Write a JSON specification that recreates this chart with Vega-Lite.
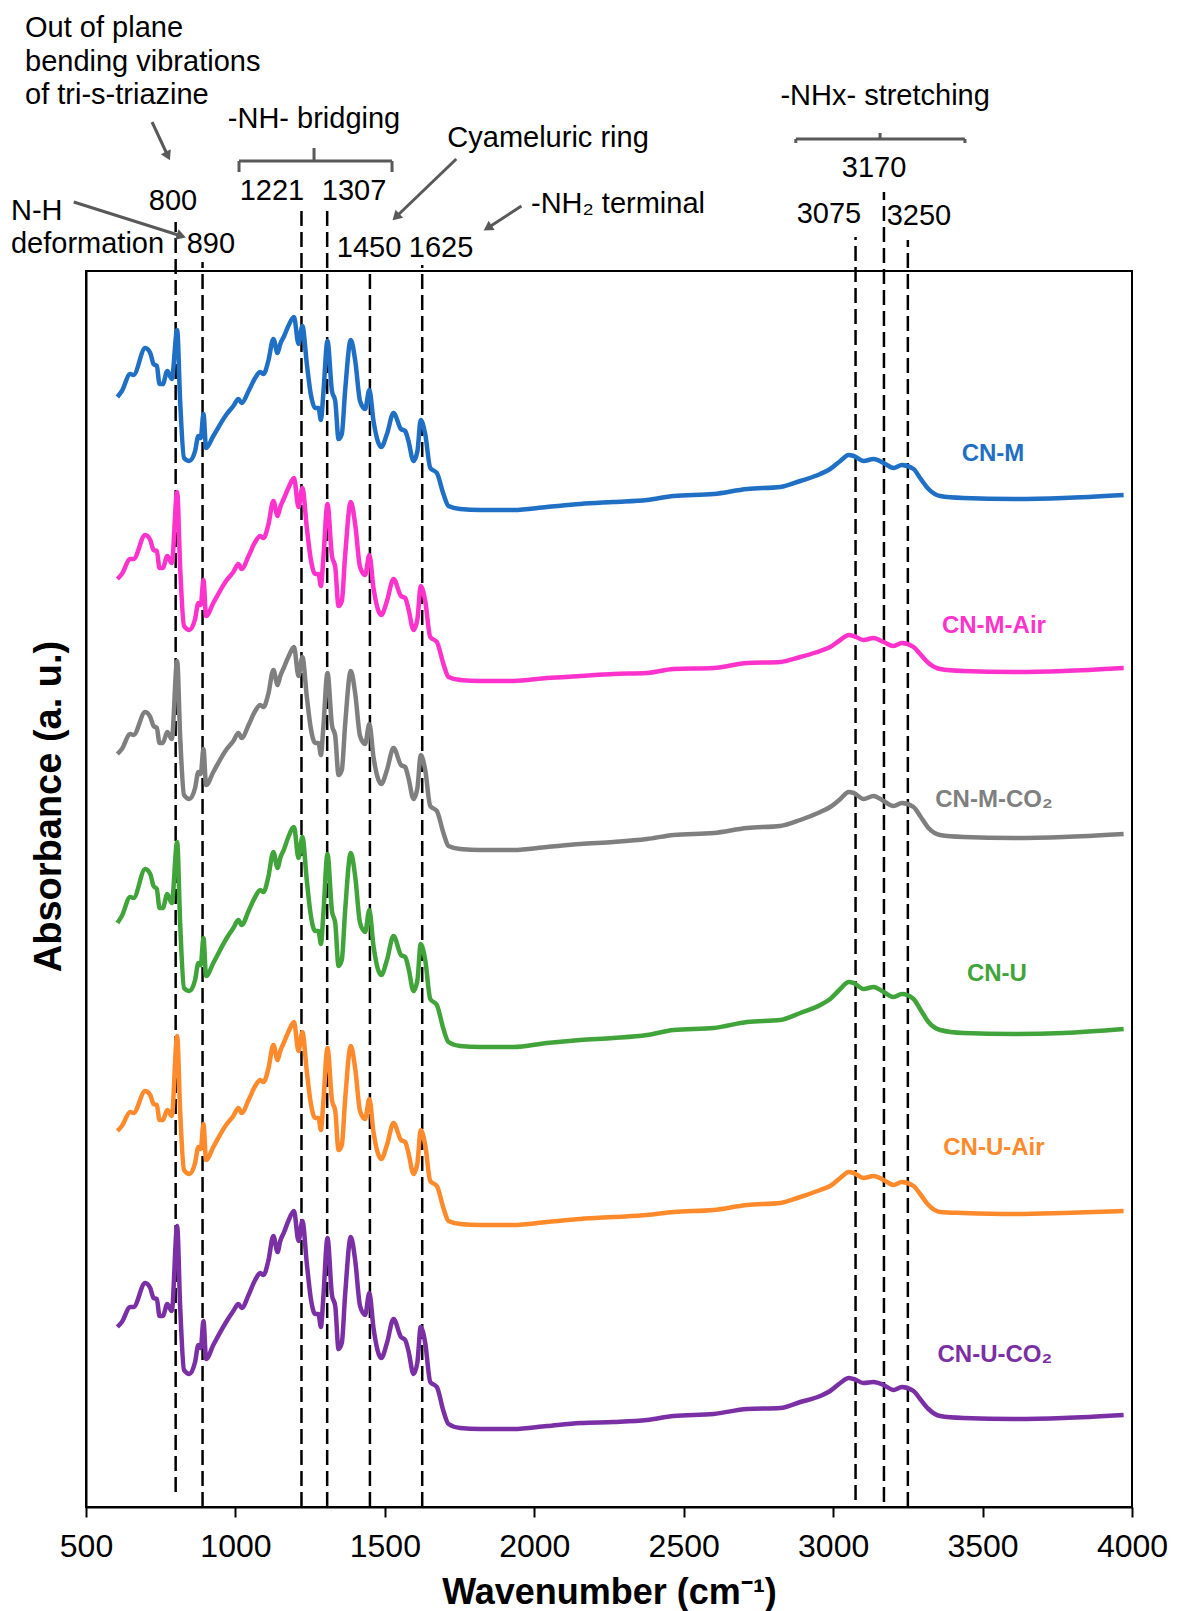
{
  "$schema": "https://vega.github.io/schema/vega-lite/v6.json",
  "width": 1046,
  "height": 1236,
  "autosize": {"type": "none"},
  "padding": {"left": 86, "top": 271, "right": 46, "bottom": 104},
  "background": "white",
  "config": {
    "font": "Liberation Sans",
    "view": {"stroke": "black", "strokeWidth": 2},
    "axis": {"grid": false}
  },
  "encoding": {
    "x": {
      "field": "w", "type": "quantitative",
      "scale": {"domain": [500, 4000], "nice": false, "zero": false},
      "axis": {
        "values": [500, 1000, 1500, 2000, 2500, 3000, 3500, 4000], "format": "d",
        "title": "Wavenumber (cm⁻¹)", "titleFontSize": 36, "titleFontWeight": "bold", "titleColor": "black",
        "titleBaseline": "alphabetic", "titleY": 96,
        "labelFontSize": 32, "labelColor": "black", "labelPadding": 14, "labelFlush": false, "labelOverlap": false,
        "tickSize": 10, "tickWidth": 2, "tickColor": "black",
        "domainColor": "black", "domainWidth": 2, "grid": false
      }
    },
    "y": {
      "field": "v", "type": "quantitative",
      "scale": {"domain": [0, 1236], "nice": false, "zero": false},
      "axis": {
        "title": "Absorbance (a. u.)", "labels": false, "ticks": false, "grid": false,
        "domainColor": "black", "domainWidth": 2,
        "titleFontSize": 38, "titleFontWeight": "bold", "titleColor": "black",
        "titleAngle": -90, "titleAlign": "center", "titleBaseline": "alphabetic", "titleX": -26, "titleY": 535
      }
    }
  },
  "layer": [
    {
      "description": "Dashed guide lines at the assigned band positions",
      "data": {"values": [
        {"w": 800, "v": 15, "v2": 1285},
        {"w": 890, "v": 0, "v2": 1245},
        {"w": 1221, "v": 0, "v2": 1302},
        {"w": 1307, "v": 0, "v2": 1302},
        {"w": 1450, "v": 0, "v2": 1238},
        {"w": 1625, "v": 0, "v2": 1242},
        {"w": 3075, "v": 7, "v2": 1270},
        {"w": 3170, "v": 5, "v2": 1315},
        {"w": 3250, "v": 0, "v2": 1267}
      ]},
      "mark": {"type": "rule", "color": "black", "strokeWidth": 2.5, "strokeDash": [15, 6]},
      "encoding": {"y2": {"field": "v2"}}
    },
    {
      "description": "FTIR spectra, stacked with vertical offsets",
      "data": {"values": [
        {"w": 605, "M": 1110, "MAir": 928, "MCO2": 753, "U": 584, "UAir": 376, "UCO2": 180},
        {"w": 620, "M": 1116, "MAir": 933, "MCO2": 758, "U": 591, "UAir": 381, "UCO2": 185},
        {"w": 648, "M": 1133, "MAir": 948, "MCO2": 773, "U": 610, "UAir": 395, "UCO2": 200},
        {"w": 659, "M": 1132, "MAir": 948, "MCO2": 772, "U": 609, "UAir": 394, "UCO2": 200},
        {"w": 698, "M": 1159, "MAir": 972, "MCO2": 795, "U": 638, "UAir": 416, "UCO2": 224},
        {"w": 715, "M": 1154, "MAir": 967, "MCO2": 790, "U": 633, "UAir": 412, "UCO2": 219},
        {"w": 726, "M": 1143, "MAir": 957, "MCO2": 781, "U": 621, "UAir": 403, "UCO2": 209},
        {"w": 737, "M": 1141, "MAir": 956, "MCO2": 779, "U": 618, "UAir": 402, "UCO2": 208},
        {"w": 746, "M": 1123, "MAir": 939, "MCO2": 764, "U": 599, "UAir": 387, "UCO2": 191},
        {"w": 757, "M": 1123, "MAir": 939, "MCO2": 764, "U": 599, "UAir": 387, "UCO2": 191},
        {"w": 772, "M": 1136, "MAir": 951, "MCO2": 775, "U": 613, "UAir": 397, "UCO2": 203},
        {"w": 787, "M": 1128, "MAir": 944, "MCO2": 768, "U": 604, "UAir": 391, "UCO2": 196},
        {"w": 805, "M": 1177, "MAir": 1015, "MCO2": 846, "U": 665, "UAir": 471, "UCO2": 281},
        {"w": 815, "M": 1106, "MAir": 940, "MCO2": 771, "U": 584, "UAir": 396, "UCO2": 201},
        {"w": 828, "M": 1049, "MAir": 881, "MCO2": 712, "U": 519, "UAir": 337, "UCO2": 137},
        {"w": 846, "M": 1046, "MAir": 877, "MCO2": 708, "U": 516, "UAir": 333, "UCO2": 133},
        {"w": 865, "M": 1056, "MAir": 888, "MCO2": 719, "U": 527, "UAir": 344, "UCO2": 145},
        {"w": 876, "M": 1071, "MAir": 904, "MCO2": 735, "U": 544, "UAir": 360, "UCO2": 162},
        {"w": 884, "M": 1069, "MAir": 902, "MCO2": 733, "U": 542, "UAir": 358, "UCO2": 159},
        {"w": 893, "M": 1093, "MAir": 927, "MCO2": 758, "U": 569, "UAir": 383, "UCO2": 186},
        {"w": 902, "M": 1059, "MAir": 891, "MCO2": 722, "U": 531, "UAir": 347, "UCO2": 148},
        {"w": 926, "M": 1071, "MAir": 904, "MCO2": 735, "U": 544, "UAir": 360, "UCO2": 162},
        {"w": 971, "M": 1093, "MAir": 927, "MCO2": 758, "U": 569, "UAir": 383, "UCO2": 186},
        {"w": 993, "M": 1101, "MAir": 935, "MCO2": 766, "U": 579, "UAir": 391, "UCO2": 196},
        {"w": 1010, "M": 1108, "MAir": 943, "MCO2": 774, "U": 587, "UAir": 399, "UCO2": 203},
        {"w": 1021, "M": 1104, "MAir": 938, "MCO2": 769, "U": 582, "UAir": 394, "UCO2": 199},
        {"w": 1044, "M": 1116, "MAir": 951, "MCO2": 782, "U": 596, "UAir": 407, "UCO2": 212},
        {"w": 1066, "M": 1129, "MAir": 965, "MCO2": 796, "U": 610, "UAir": 421, "UCO2": 227},
        {"w": 1083, "M": 1135, "MAir": 971, "MCO2": 802, "U": 617, "UAir": 427, "UCO2": 234},
        {"w": 1094, "M": 1133, "MAir": 969, "MCO2": 800, "U": 615, "UAir": 425, "UCO2": 232},
        {"w": 1110, "M": 1146, "MAir": 982, "MCO2": 813, "U": 630, "UAir": 438, "UCO2": 246},
        {"w": 1127, "M": 1168, "MAir": 1006, "MCO2": 837, "U": 655, "UAir": 462, "UCO2": 271},
        {"w": 1141, "M": 1154, "MAir": 991, "MCO2": 822, "U": 639, "UAir": 447, "UCO2": 255},
        {"w": 1150, "M": 1163, "MAir": 1000, "MCO2": 831, "U": 649, "UAir": 456, "UCO2": 266},
        {"w": 1163, "M": 1171, "MAir": 1009, "MCO2": 840, "U": 658, "UAir": 465, "UCO2": 275},
        {"w": 1177, "M": 1181, "MAir": 1019, "MCO2": 850, "U": 670, "UAir": 475, "UCO2": 286},
        {"w": 1196, "M": 1190, "MAir": 1029, "MCO2": 860, "U": 680, "UAir": 485, "UCO2": 296},
        {"w": 1211, "M": 1163, "MAir": 1000, "MCO2": 831, "U": 649, "UAir": 456, "UCO2": 266},
        {"w": 1224, "M": 1181, "MAir": 1019, "MCO2": 850, "U": 670, "UAir": 475, "UCO2": 286},
        {"w": 1239, "M": 1143, "MAir": 979, "MCO2": 810, "U": 626, "UAir": 435, "UCO2": 243},
        {"w": 1252, "M": 1113, "MAir": 948, "MCO2": 779, "U": 592, "UAir": 404, "UCO2": 209},
        {"w": 1267, "M": 1099, "MAir": 933, "MCO2": 764, "U": 576, "UAir": 389, "UCO2": 193},
        {"w": 1278, "M": 1099, "MAir": 933, "MCO2": 764, "U": 576, "UAir": 389, "UCO2": 193},
        {"w": 1286, "M": 1087, "MAir": 921, "MCO2": 752, "U": 563, "UAir": 377, "UCO2": 180},
        {"w": 1294, "M": 1113, "MAir": 948, "MCO2": 779, "U": 592, "UAir": 404, "UCO2": 209},
        {"w": 1308, "M": 1166, "MAir": 1003, "MCO2": 834, "U": 653, "UAir": 459, "UCO2": 269},
        {"w": 1323, "M": 1116, "MAir": 951, "MCO2": 782, "U": 596, "UAir": 407, "UCO2": 212},
        {"w": 1334, "M": 1106, "MAir": 940, "MCO2": 771, "U": 584, "UAir": 396, "UCO2": 201},
        {"w": 1345, "M": 1068, "MAir": 901, "MCO2": 732, "U": 541, "UAir": 357, "UCO2": 158},
        {"w": 1356, "M": 1073, "MAir": 906, "MCO2": 737, "U": 547, "UAir": 362, "UCO2": 164},
        {"w": 1367, "M": 1116, "MAir": 951, "MCO2": 782, "U": 596, "UAir": 407, "UCO2": 212},
        {"w": 1386, "M": 1167, "MAir": 1005, "MCO2": 836, "U": 654, "UAir": 461, "UCO2": 270},
        {"w": 1401, "M": 1146, "MAir": 982, "MCO2": 813, "U": 630, "UAir": 438, "UCO2": 246},
        {"w": 1417, "M": 1106, "MAir": 940, "MCO2": 771, "U": 584, "UAir": 396, "UCO2": 201},
        {"w": 1434, "M": 1098, "MAir": 932, "MCO2": 763, "U": 575, "UAir": 388, "UCO2": 192},
        {"w": 1448, "M": 1117, "MAir": 952, "MCO2": 783, "U": 597, "UAir": 408, "UCO2": 214},
        {"w": 1462, "M": 1086, "MAir": 919, "MCO2": 750, "U": 561, "UAir": 375, "UCO2": 179},
        {"w": 1488, "M": 1060, "MAir": 892, "MCO2": 723, "U": 532, "UAir": 348, "UCO2": 149},
        {"w": 1507, "M": 1073, "MAir": 906, "MCO2": 737, "U": 547, "UAir": 362, "UCO2": 164},
        {"w": 1529, "M": 1094, "MAir": 928, "MCO2": 759, "U": 571, "UAir": 384, "UCO2": 188},
        {"w": 1554, "M": 1078, "MAir": 911, "MCO2": 742, "U": 552, "UAir": 367, "UCO2": 170},
        {"w": 1568, "M": 1076, "MAir": 909, "MCO2": 740, "U": 550, "UAir": 365, "UCO2": 167},
        {"w": 1579, "M": 1066, "MAir": 898, "MCO2": 729, "U": 539, "UAir": 354, "UCO2": 156},
        {"w": 1596, "M": 1046, "MAir": 877, "MCO2": 708, "U": 516, "UAir": 333, "UCO2": 133},
        {"w": 1609, "M": 1056, "MAir": 888, "MCO2": 719, "U": 527, "UAir": 344, "UCO2": 145},
        {"w": 1620, "M": 1087, "MAir": 921, "MCO2": 752, "U": 563, "UAir": 377, "UCO2": 180},
        {"w": 1635, "M": 1073, "MAir": 906, "MCO2": 737, "U": 547, "UAir": 362, "UCO2": 164},
        {"w": 1652, "M": 1039, "MAir": 870, "MCO2": 701, "U": 508, "UAir": 326, "UCO2": 125},
        {"w": 1674, "M": 1034, "MAir": 865, "MCO2": 696, "U": 502, "UAir": 321, "UCO2": 120},
        {"w": 1696, "M": 1013, "MAir": 843, "MCO2": 674, "U": 478, "UAir": 299, "UCO2": 96},
        {"w": 1713, "M": 1001, "MAir": 830, "MCO2": 661, "U": 465, "UAir": 286, "UCO2": 83},
        {"w": 1752, "M": 998, "MAir": 827, "MCO2": 658, "U": 461, "UAir": 283, "UCO2": 79},
        {"w": 1819, "M": 997, "MAir": 826, "MCO2": 657, "U": 460, "UAir": 282, "UCO2": 78},
        {"w": 1930, "M": 997, "MAir": 826, "MCO2": 657, "U": 460, "UAir": 282, "UCO2": 78},
        {"w": 2042, "M": 1000, "MAir": 829, "MCO2": 660, "U": 464, "UAir": 285, "UCO2": 81},
        {"w": 2154, "M": 1003, "MAir": 831, "MCO2": 663, "U": 467, "UAir": 288, "UCO2": 84},
        {"w": 2265, "M": 1005, "MAir": 833, "MCO2": 665, "U": 469, "UAir": 290, "UCO2": 85},
        {"w": 2377, "M": 1007, "MAir": 834, "MCO2": 668, "U": 472, "UAir": 292, "UCO2": 87},
        {"w": 2466, "M": 1011, "MAir": 838, "MCO2": 672, "U": 477, "UAir": 295, "UCO2": 91},
        {"w": 2600, "M": 1013, "MAir": 839, "MCO2": 674, "U": 479, "UAir": 297, "UCO2": 93},
        {"w": 2712, "M": 1018, "MAir": 844, "MCO2": 679, "U": 485, "UAir": 302, "UCO2": 98},
        {"w": 2823, "M": 1020, "MAir": 845, "MCO2": 681, "U": 487, "UAir": 304, "UCO2": 99},
        {"w": 2890, "M": 1026, "MAir": 850, "MCO2": 687, "U": 494, "UAir": 310, "UCO2": 105},
        {"w": 2957, "M": 1033, "MAir": 856, "MCO2": 695, "U": 502, "UAir": 317, "UCO2": 111},
        {"w": 2990, "M": 1038, "MAir": 860, "MCO2": 700, "U": 508, "UAir": 321, "UCO2": 116},
        {"w": 3024, "M": 1046, "MAir": 867, "MCO2": 708, "U": 518, "UAir": 329, "UCO2": 124},
        {"w": 3052, "M": 1052, "MAir": 872, "MCO2": 715, "U": 525, "UAir": 335, "UCO2": 129},
        {"w": 3069, "M": 1051, "MAir": 871, "MCO2": 714, "U": 524, "UAir": 334, "UCO2": 128},
        {"w": 3102, "M": 1046, "MAir": 867, "MCO2": 708, "U": 518, "UAir": 329, "UCO2": 124},
        {"w": 3135, "M": 1048, "MAir": 869, "MCO2": 711, "U": 520, "UAir": 331, "UCO2": 125},
        {"w": 3169, "M": 1044, "MAir": 865, "MCO2": 706, "U": 515, "UAir": 327, "UCO2": 122},
        {"w": 3202, "M": 1039, "MAir": 861, "MCO2": 701, "U": 510, "UAir": 322, "UCO2": 117},
        {"w": 3230, "M": 1042, "MAir": 864, "MCO2": 704, "U": 513, "UAir": 325, "UCO2": 120},
        {"w": 3269, "M": 1038, "MAir": 860, "MCO2": 700, "U": 508, "UAir": 321, "UCO2": 116},
        {"w": 3291, "M": 1029, "MAir": 853, "MCO2": 691, "U": 498, "UAir": 313, "UCO2": 108},
        {"w": 3319, "M": 1018, "MAir": 844, "MCO2": 679, "U": 485, "UAir": 302, "UCO2": 98},
        {"w": 3358, "M": 1011, "MAir": 838, "MCO2": 672, "U": 477, "UAir": 295, "UCO2": 91},
        {"w": 3436, "M": 1009, "MAir": 836, "MCO2": 670, "U": 474, "UAir": 294, "UCO2": 89},
        {"w": 3604, "M": 1008, "MAir": 835, "MCO2": 669, "U": 473, "UAir": 293, "UCO2": 88},
        {"w": 3771, "M": 1009, "MAir": 836, "MCO2": 670, "U": 474, "UAir": 294, "UCO2": 89},
        {"w": 3972, "M": 1012, "MAir": 839, "MCO2": 673, "U": 478, "UAir": 296, "UCO2": 92}
      ]},
      "transform": [{"fold": ["M", "MAir", "MCO2", "U", "UAir", "UCO2"], "as": ["series", "v"]}],
      "mark": {"type": "line", "strokeWidth": 4.5, "interpolate": "monotone"},
      "encoding": {
        "color": {
          "field": "series", "type": "nominal",
          "scale": {"domain": ["M", "MAir", "MCO2", "U", "UAir", "UCO2"],
                    "range": ["#1F6FC5", "#FF33CC", "#7F7F7F", "#41A43A", "#FF8A2B", "#7B2FA5"]},
          "legend": null
        }
      }
    },
    {
      "description": "Sample names beside each trace",
      "data": {"values": [
        {"series": "M", "label": "CN-M", "w": 3535, "v": 1053},
        {"series": "MAir", "label": "CN-M-Air", "w": 3538, "v": 881},
        {"series": "MCO2", "label": "CN-M-CO₂", "w": 3538, "v": 707},
        {"series": "U", "label": "CN-U", "w": 3548, "v": 533},
        {"series": "UAir", "label": "CN-U-Air", "w": 3538, "v": 359},
        {"series": "UCO2", "label": "CN-U-CO₂", "w": 3541, "v": 152}
      ]},
      "mark": {"type": "text", "fontSize": 24, "fontWeight": "bold", "align": "center", "baseline": "middle"},
      "encoding": {
        "text": {"field": "label"},
        "color": {
          "field": "series", "type": "nominal",
          "scale": {"domain": ["M", "MAir", "MCO2", "U", "UAir", "UCO2"],
                    "range": ["#1F6FC5", "#FF33CC", "#7F7F7F", "#41A43A", "#FF8A2B", "#7B2FA5"]},
          "legend": null
        }
      }
    },
    {
      "description": "Centred band annotations",
      "data": {"values": [
        {"t": "-NH- bridging", "w": 1263, "v": 1379},
        {"t": "Cyameluric ring", "w": 2046, "v": 1360},
        {"t": "800", "w": 791, "v": 1297},
        {"t": "1221", "w": 1122, "v": 1307},
        {"t": "1307", "w": 1397, "v": 1307},
        {"t": "890", "w": 918, "v": 1254},
        {"t": "1450", "w": 1447, "v": 1250},
        {"t": "1625", "w": 1688, "v": 1250},
        {"t": "-NHx- stretching", "w": 3174, "v": 1402},
        {"t": "3170", "w": 3137, "v": 1330},
        {"t": "3075", "w": 2986, "v": 1284},
        {"t": "3250", "w": 3287, "v": 1282}
      ]},
      "mark": {"type": "text", "fontSize": 29, "color": "black", "align": "center", "baseline": "alphabetic"},
      "encoding": {"text": {"field": "t"}}
    },
    {
      "description": "Left-aligned band annotations",
      "data": {"values": [
        {"t": "Out of plane", "w": 296, "v": 1470},
        {"t": "bending vibrations", "w": 296, "v": 1436},
        {"t": "of tri-s-triazine", "w": 296, "v": 1403},
        {"t": "N-H", "w": 249, "v": 1287},
        {"t": "deformation", "w": 249, "v": 1254},
        {"t": "-NH₂ terminal", "w": 1989, "v": 1294}
      ]},
      "mark": {"type": "text", "fontSize": 29, "color": "black", "align": "left", "baseline": "alphabetic"},
      "encoding": {"text": {"field": "t"}}
    },
    {
      "description": "Brackets and arrow shafts",
      "data": {"values": [
        {"w": 1012, "v": 1346, "w2": 1524, "v2": 1346},
        {"w": 1012, "v": 1346, "w2": 1012, "v2": 1335},
        {"w": 1524, "v": 1346, "w2": 1524, "v2": 1335},
        {"w": 1263, "v": 1346, "w2": 1263, "v2": 1359},
        {"w": 2875, "v": 1368, "w2": 3441, "v2": 1368},
        {"w": 2875, "v": 1368, "w2": 2875, "v2": 1364},
        {"w": 3441, "v": 1368, "w2": 3441, "v2": 1364},
        {"w": 3157, "v": 1368, "w2": 3157, "v2": 1374},
        {"w": 721, "v": 1385, "w2": 774, "v2": 1351},
        {"w": 459, "v": 1305, "w2": 819, "v2": 1271},
        {"w": 1739, "v": 1348, "w2": 1537, "v2": 1290},
        {"w": 1957, "v": 1301, "w2": 1844, "v2": 1279}
      ]},
      "mark": {"type": "rule", "color": "#595959", "strokeWidth": 3},
      "encoding": {"x2": {"field": "w2"}, "y2": {"field": "v2"}}
    },
    {
      "description": "Arrow heads",
      "data": {"values": [
        {"w": 774, "v": 1351, "ang": 154},
        {"w": 819, "v": 1271, "ang": 108},
        {"w": 1537, "v": 1290, "ang": 226},
        {"w": 1844, "v": 1279, "ang": 237}
      ]},
      "mark": {"type": "point", "shape": "triangle-up", "filled": true, "size": 120, "color": "#595959", "opacity": 1},
      "encoding": {"angle": {"field": "ang", "type": "quantitative", "scale": null}}
    }
  ]
}
